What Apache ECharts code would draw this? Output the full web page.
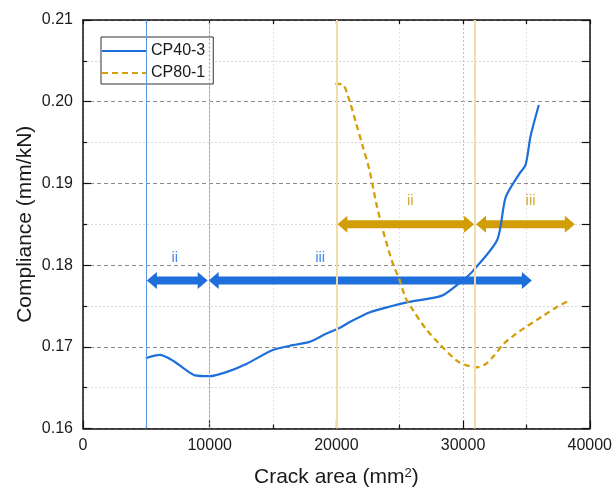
<!DOCTYPE html>
<html>
<head>
<meta charset="utf-8">
<script src="https://cdn.jsdelivr.net/npm/echarts@6/dist/echarts.min.js"></script>
<style>
html,body{margin:0;padding:0;background:#fff;}
#chart{width:615px;height:493px;}
</style>
</head>
<body>
<div id="chart"></div>
<script>
// ---- data ----
const seriesNames = ['CP40-3', 'CP80-1'];
const cp40Area = [4960, 6060, 7110, 8000, 8820, 10000, 11310, 12890, 14990, 16560, 17870, 19190, 20240, 21020, 22600, 23910, 25750, 27320, 28400, 29950, 30730, 32700, 33360, 34410, 34940, 35330, 35980];
const cp40Comp = [0.1686, 0.1690, 0.1683, 0.1673, 0.1665, 0.1664, 0.1669, 0.1679, 0.1696, 0.1702, 0.1706, 0.1716, 0.1723, 0.1730, 0.1742, 0.1748, 0.1755, 0.1759, 0.1763, 0.1781, 0.1792, 0.1831, 0.1883, 0.1911, 0.1923, 0.1958, 0.1996];
const cp80Area = [19920, 20500, 21020, 21550, 22070, 22600, 23130, 23650, 24430, 24960, 25490, 26000, 27060, 28110, 29500, 30340, 31130, 31790, 32440, 33230, 34020, 34940, 36240, 37430, 38350];
const cp80Comp = [0.2022, 0.2021, 0.2002, 0.1974, 0.1946, 0.1917, 0.1877, 0.1844, 0.1803, 0.1783, 0.1759, 0.1746, 0.1722, 0.1704, 0.1683, 0.1677, 0.1675, 0.1679, 0.1689, 0.1704, 0.1714, 0.1724, 0.1737, 0.1749, 0.1756];
const xTicks = ['0', '10000', '20000', '30000', '40000'];
const yTicks = ['0.16', '0.17', '0.18', '0.19', '0.20', '0.21'];
// stage arrows
const arrowStart = [5040, 9920, 20080, 31020];
const arrowEnd = [9840, 35430, 30870, 38820];
const arrowLevel = [0.1781, 0.1781, 0.1850, 0.1850];
const arrowLabel = ['ii', 'iii', 'ii', 'iii'];
const arrowLabelX = [7244, 18720, 25830, 35330];
const arrowSeries = [0, 0, 1, 1];
// stage boundary lines
const boundaryArea = [5000, 10000, 20050, 30950];
const boundarySeries = [0, -1, 1, 1];

const BLUE = '#1f6fdb';
const GOLD = '#d3a00a';
const arrowColors = ['#1f6fdb', '#d19e08'];
const labelColors = ['#4b8be3', '#d6aa35'];
const boundaryStyles = {
  '0': {color: '#5b98e8', width: 1, type: 'solid'},
  '-1': {color: '#8d9bb0', width: 1, type: [2, 2]},
  '1': {color: '#f1dcaa', width: 2, type: 'solid'}
};

const xMin = parseFloat(xTicks[0]), xMax = parseFloat(xTicks[xTicks.length - 1]);
const yMin = parseFloat(yTicks[0]), yMax = parseFloat(yTicks[yTicks.length - 1]);

const chart = echarts.init(document.getElementById('chart'), null, {renderer: 'canvas'});

const zip = (a, b) => a.map((v, i) => [v, b[i]]);
const arrowData = arrowStart.map((s, i) => [s, arrowEnd[i], arrowLevel[i], arrowLabelX[i], arrowSeries[i], arrowLabel[i]]);

const FONT = 'Liberation Sans, Arial, sans-serif';
const pick = (arr, v) => arr.find(t => Math.abs(parseFloat(t) - v) < 1e-6) || String(v);

const option = {
  backgroundColor: '#fff',
  animation: false,
  grid: {left: 83, right: 24, top: 20, bottom: 63, containLabel: false},
  legend: {
    left: 101, top: 37, orient: 'vertical',
    padding: [6, 8, 3, 0], itemGap: 6, itemWidth: 44, itemHeight: 17, itemTextGap: 4,
    borderColor: '#333', borderWidth: 1, borderRadius: 0, backgroundColor: '#fff',
    itemStyle: {opacity: 0},
    textStyle: {fontFamily: 'Liberation Sans', fontSize: 16, color: '#1a1a1a'},
    data: seriesNames
  },
  xAxis: [{
    type: 'value', min: xMin, max: xMax, interval: 10000, position: 'bottom',
    axisLine: {show: true, onZero: false, lineStyle: {color: '#111', width: 1.5}},
    axisTick: {show: true, inside: true, length: 8, lineStyle: {color: '#111', width: 1.2}},
    minorTick: {show: true, splitNumber: 2, length: 4, lineStyle: {color: '#111', width: 1.2}},
    axisLabel: {fontFamily: FONT, fontSize: 16, color: '#1a1a1a', margin: 9, formatter: v => pick(xTicks, v)},
    splitLine: {show: true, lineStyle: {color: '#c4c4c4', type: [2, 2], width: 1}},
    minorSplitLine: {show: true, lineStyle: {color: '#e2e2e2', type: [2, 2], width: 1}},
    name: '{a|Crack area (mm}{s|2}{a|)}', nameLocation: 'middle', nameGap: 38, nameMoveOverlap: false,
    nameTextStyle: {rich: {
      a: {fontFamily: FONT, fontSize: 21, color: '#1a1a1a'},
      s: {fontFamily: FONT, fontSize: 13, color: '#1a1a1a', verticalAlign: 'top', padding: [0, 0, 9, 0]}
    }}
  }, {
    type: 'value', min: xMin, max: xMax, interval: 5000, position: 'top',
    axisLine: {show: true, onZero: false, lineStyle: {color: '#111', width: 1.5}},
    axisTick: {show: true, inside: true, length: 4, lineStyle: {color: '#111', width: 1.2}},
    axisLabel: {show: false}, splitLine: {show: false}
  }],
  yAxis: [{
    type: 'value', min: yMin, max: yMax, interval: 0.01, position: 'left',
    axisLine: {show: true, onZero: false, lineStyle: {color: '#111', width: 1.5}},
    axisTick: {show: true, inside: true, length: 8, lineStyle: {color: '#111', width: 1.2}},
    minorTick: {show: true, splitNumber: 2, length: 4, lineStyle: {color: '#111', width: 1.2}},
    axisLabel: {fontFamily: FONT, fontSize: 16, color: '#1a1a1a', margin: 10, formatter: v => pick(yTicks, v)},
    splitLine: {show: true, lineStyle: {color: '#8a8a8a', type: [4, 3], width: 1}},
    minorSplitLine: {show: true, lineStyle: {color: '#d6d6d6', type: [2, 2], width: 1}},
    name: 'Compliance (mm/kN)', nameLocation: 'middle', nameGap: 47, nameMoveOverlap: false,
    nameTextStyle: {fontFamily: FONT, fontSize: 21, color: '#1a1a1a'}
  }, {
    type: 'value', min: yMin, max: yMax, interval: 0.005, position: 'right',
    axisLine: {show: true, onZero: false, lineStyle: {color: '#111', width: 1.5}},
    axisTick: {show: true, inside: true, length: 8, lineStyle: {color: '#111', width: 1.2}},
    axisLabel: {show: false}, splitLine: {show: false}
  }],
  series: [
    {
      type: 'line', name: '__bounds', xAxisIndex: 0, yAxisIndex: 0, data: [],
      silent: true, z: 1,
      markLine: {
        silent: true, symbol: 'none', label: {show: false},
        data: boundaryArea.map((x, i) => ({xAxis: x, lineStyle: boundaryStyles[String(boundarySeries[i])]}))
      }
    },
    {
      type: 'line', name: seriesNames[0], xAxisIndex: 0, yAxisIndex: 0,
      data: zip(cp40Area, cp40Comp), showSymbol: false, symbol: 'none', smooth: 0.25,
      lineStyle: {color: BLUE, width: 2.2}, itemStyle: {color: BLUE}, z: 4
    },
    {
      type: 'line', name: seriesNames[1], xAxisIndex: 0, yAxisIndex: 0,
      data: zip(cp80Area, cp80Comp), showSymbol: false, symbol: 'none', smooth: 0.3,
      lineStyle: {color: GOLD, width: 2.3, type: [6, 4]}, itemStyle: {color: GOLD}, z: 4
    },
    {
      type: 'custom', name: '__arrows', xAxisIndex: 0, yAxisIndex: 0, z: 3, silent: true,
      data: arrowData,
      renderItem: function (params, api) {
        const s = api.coord([api.value(0), api.value(2)]);
        const e = api.coord([api.value(1), api.value(2)]);
        const lx = api.coord([api.value(3), api.value(2)])[0];
        const k = api.value(4);
        const lab = arrowData[params.dataIndex][5];
        const y = s[1], h = 4, H = 8.5, L = 10;
        const pts = [
          [s[0], y], [s[0] + L, y - H], [s[0] + L, y - h], [e[0] - L, y - h], [e[0] - L, y - H],
          [e[0], y], [e[0] - L, y + H], [e[0] - L, y + h], [s[0] + L, y + h], [s[0] + L, y + H]
        ];
        return {
          type: 'group',
          children: [
            {type: 'polygon', shape: {points: pts}, style: {fill: arrowColors[k], stroke: null}},
            {type: 'text', x: lx, y: y - 23, style: {
              text: lab, fill: labelColors[k], font: '15px ' + FONT, align: 'center', verticalAlign: 'middle'}}
          ]
        };
      }
    }
  ]
};
chart.setOption(option);
</script>
</body>
</html>
